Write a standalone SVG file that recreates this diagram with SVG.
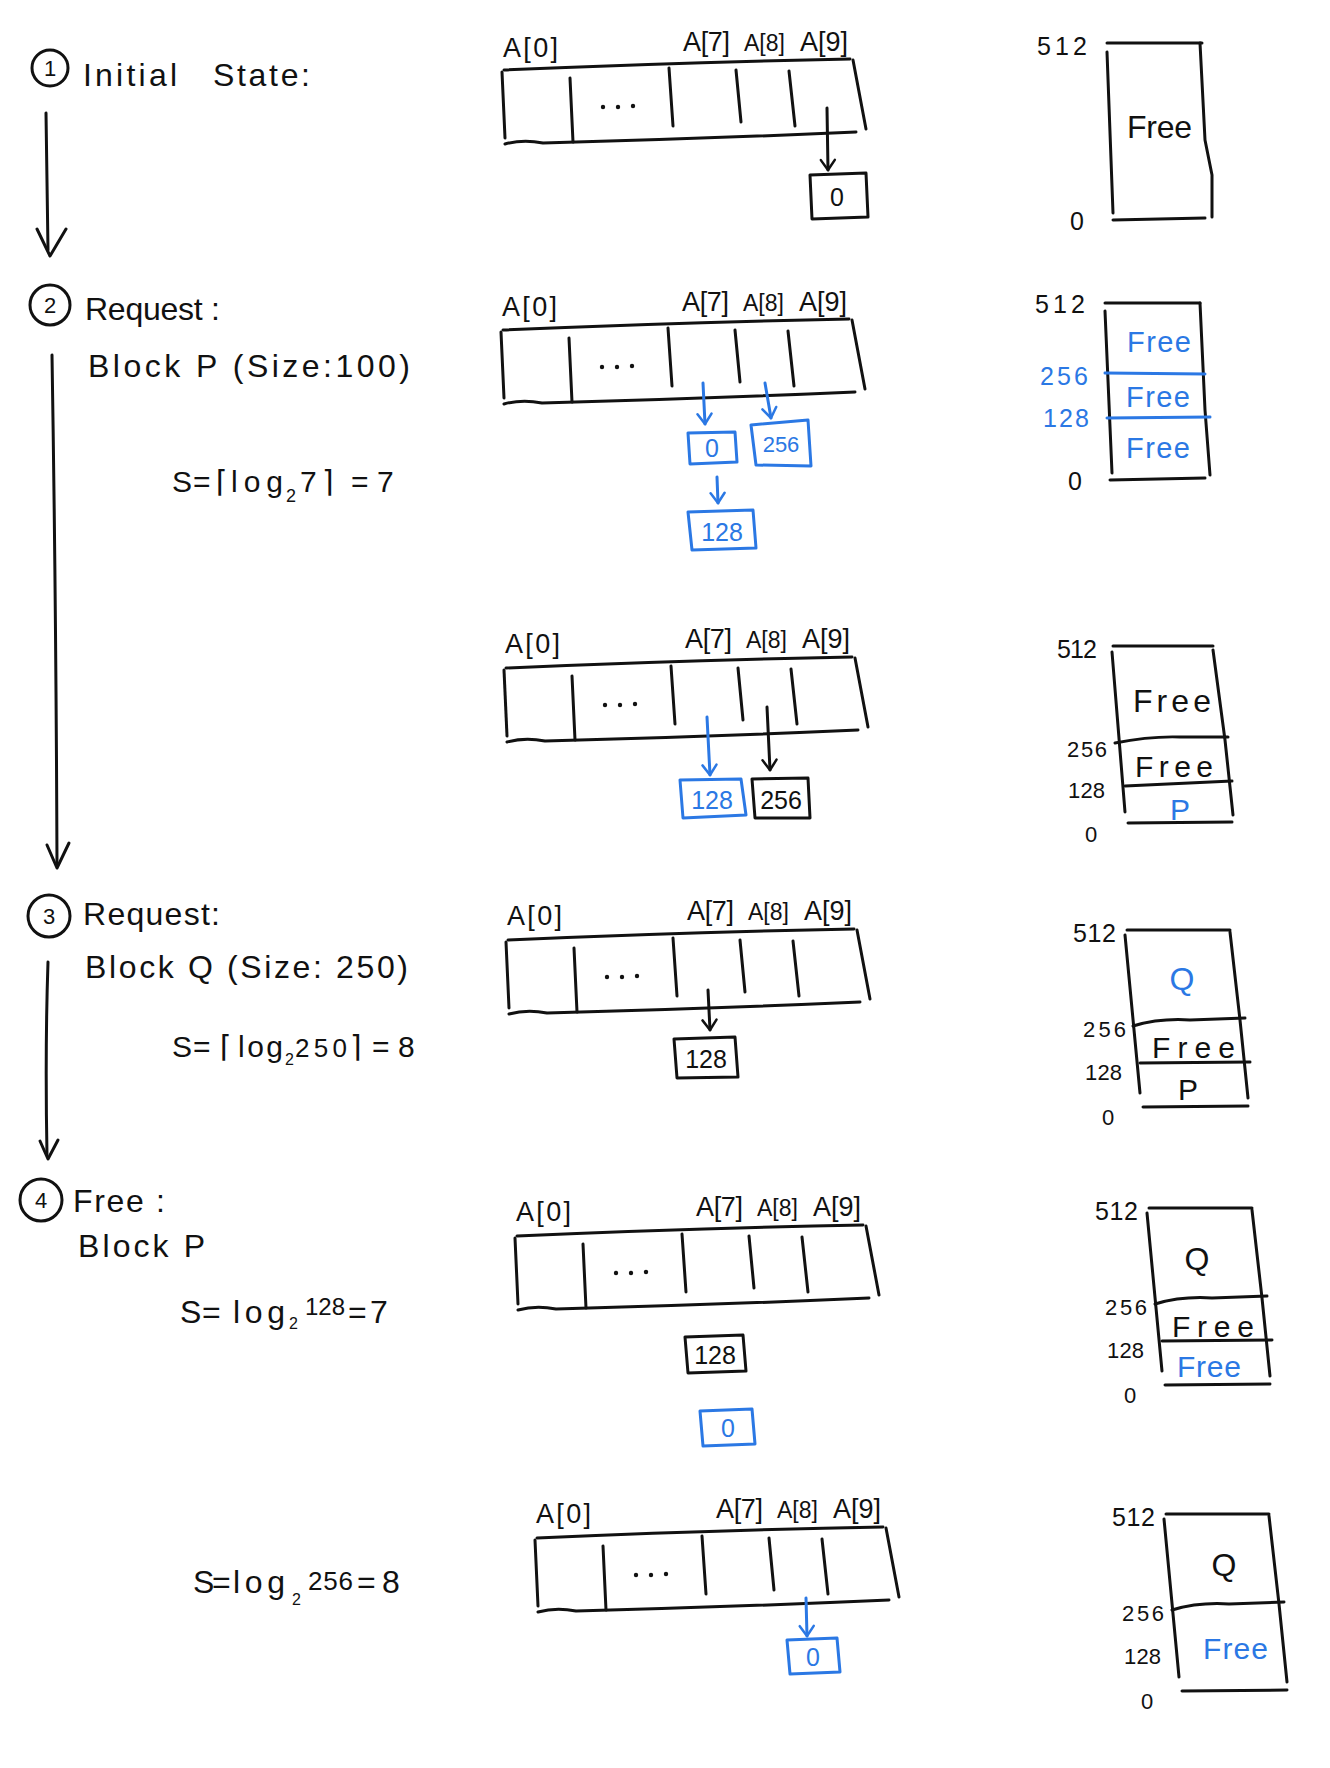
<svg xmlns="http://www.w3.org/2000/svg" xmlns:xlink="http://www.w3.org/1999/xlink" width="1330" height="1768" viewBox="0 0 1330 1768">
<style>
.ink{fill:none;stroke:#111;stroke-width:3;stroke-linecap:round;stroke-linejoin:round}
.bl{fill:none;stroke:#2b78e4;stroke-width:3;stroke-linecap:round;stroke-linejoin:round}
text{font-family:"Liberation Sans","DejaVu Sans",sans-serif;fill:#111}
.tb{fill:#2b78e4}
.big{font-size:32px}
.lab{font-size:27px}
.lab8{font-size:23px}
.num{font-size:25px}
.sm{font-size:22px}
.dot{fill:#111}
</style>
<defs>
<marker id="vk" viewBox="-12 -9 14 18" refX="0" refY="0" markerWidth="14" markerHeight="18" markerUnits="userSpaceOnUse" orient="auto">
<path d="M-10,-7 L0,0 L-10,7" fill="none" stroke="#111" stroke-width="2.5" stroke-linecap="round" stroke-linejoin="round"/>
</marker>
<marker id="vb" viewBox="-12 -9 14 18" refX="0" refY="0" markerWidth="14" markerHeight="18" markerUnits="userSpaceOnUse" orient="auto">
<path d="M-10,-7 L0,0 L-10,7" fill="none" stroke="#2b78e4" stroke-width="2.5" stroke-linecap="round" stroke-linejoin="round"/>
</marker>
<g id="arr">
<path class="ink" d="M1,0 Q185,-8 347,-11"/>
<path class="ink" d="M2,74 Q20,69 40,73 Q195,69 353,62"/>
<path class="ink" d="M-1,2 L2,68"/>
<path class="ink" d="M67,8 L70,72"/>
<path class="ink" d="M166,-2 L170,56"/>
<path class="ink" d="M233,0 L238,52"/>
<path class="ink" d="M286,1 L292,56"/>
<path class="ink" d="M350,-10 L363,59"/>
<circle class="dot" cx="100" cy="37" r="2.2"/>
<circle class="dot" cx="115" cy="37" r="2.2"/>
<circle class="dot" cx="130" cy="36" r="2.2"/>
</g>
<g id="memo">
<path class="ink" d="M1127,930 L1230,930"/>
<path class="ink" d="M1125,935 L1140,1093"/>
<path class="ink" d="M1230,932 L1240,1020 L1248,1098"/>
<path class="ink" d="M1133,1026 Q1160,1018 1190,1020 L1245,1018"/>
<path class="ink" d="M1143,1107 L1248,1106"/>
</g>
</defs>
<rect width="1330" height="1768" fill="#fff"/>

<!-- Step labels -->
<g id="step1">
<circle class="ink" cx="50" cy="68" r="18" stroke-width="2.5"/>
<text x="50" y="76" font-size="22" text-anchor="middle">1</text>
<text class="big" x="83" y="86" textLength="94">Initial</text>
<text class="big" x="213" y="86" textLength="97">State:</text>
</g>
<g id="step2">
<circle class="ink" cx="50" cy="305" r="20" stroke-width="2.5"/>
<text x="50" y="313" font-size="22" text-anchor="middle">2</text>
<text class="big" x="85" y="320" textLength="135">Request :</text>
<text class="big" x="88" y="377" textLength="322">Block P (Size:100)</text>
<text font-size="30" y="492"><tspan x="172">S</tspan><tspan x="193">=</tspan><tspan x="216">⌈</tspan><tspan x="231" textLength="52">log</tspan><tspan x="286" y="502" font-size="18">2</tspan><tspan x="300" y="492">7</tspan><tspan x="322">⌉</tspan><tspan x="351">=</tspan><tspan x="377">7</tspan></text>
</g>
<g id="step3">
<circle class="ink" cx="49" cy="916" r="21" stroke-width="2.5"/>
<text x="49" y="924" font-size="22" text-anchor="middle">3</text>
<text class="big" x="83" y="925" textLength="137">Request:</text>
<text class="big" x="85" y="978" textLength="323">Block Q (Size: 250)</text>
<text font-size="30" y="1057"><tspan x="172">S</tspan><tspan x="193">=</tspan><tspan x="220">⌈</tspan><tspan x="238" textLength="45">log</tspan><tspan x="285" y="1065" font-size="16">2</tspan><tspan x="295" y="1057" font-size="26" textLength="52">250</tspan><tspan x="350" y="1057">⌉</tspan><tspan x="372">=</tspan><tspan x="398">8</tspan></text>
</g>
<g id="step4">
<circle class="ink" cx="41" cy="1200" r="21" stroke-width="2.5"/>
<text x="41" y="1208" font-size="22" text-anchor="middle">4</text>
<text class="big" x="73" y="1212" textLength="92">Free :</text>
<text class="big" x="78" y="1257" textLength="127">Block P</text>
<text font-size="32" y="1323"><tspan x="180">S</tspan><tspan x="202">=</tspan><tspan x="233" textLength="52">log</tspan><tspan x="289" y="1329" font-size="16">2</tspan><tspan x="305" y="1315" font-size="24" textLength="40">128</tspan><tspan x="348" y="1323">=</tspan><tspan x="370">7</tspan></text>
<text font-size="32" y="1593"><tspan x="193">S</tspan><tspan x="212">=</tspan><tspan x="233" textLength="52">log</tspan><tspan x="292" y="1605" font-size="16">2</tspan><tspan x="308" y="1590" font-size="26" textLength="45">256</tspan><tspan x="357" y="1593">=</tspan><tspan x="382">8</tspan></text>
</g>

<!-- Arrays -->
<g id="array1">
<use xlink:href="#arr" href="#arr" transform="translate(503,70)"/>
<text class="lab" x="503" y="57" textLength="55">A[0]</text>
<text class="lab" x="683" y="51" textLength="47">A[7]</text>
<text class="lab8" x="744" y="51" textLength="41">A[8]</text>
<text class="lab" x="800" y="51" textLength="48">A[9]</text>
<path class="ink" d="M810,175 L866,173 L868,217 L812,219 Z"/>
<text class="num" x="837" y="206" text-anchor="middle">0</text>
</g>
<g id="array2">
<use xlink:href="#arr" href="#arr" transform="translate(502,330)"/>
<text class="lab" x="502" y="316" textLength="55">A[0]</text>
<text class="lab" x="682" y="311" textLength="47">A[7]</text>
<text class="lab8" x="743" y="311" textLength="41">A[8]</text>
<text class="lab" x="799" y="311" textLength="48">A[9]</text>
<path class="bl" d="M688,433 L735,432 L737,462 L690,464 Z"/>
<text class="num tb" x="712" y="457" text-anchor="middle">0</text>
<path class="bl" d="M751,425 L808,420 L811,466 L756,465 Z"/>
<text class="sm tb" x="781" y="452" text-anchor="middle">256</text>
<path class="bl" d="M688,512 L753,510 L756,548 L692,550 Z"/>
<text class="num tb" x="722" y="541" text-anchor="middle">128</text>
</g>
<g id="array3">
<use xlink:href="#arr" href="#arr" transform="translate(505,668)"/>
<text class="lab" x="505" y="653" textLength="55">A[0]</text>
<text class="lab" x="685" y="648" textLength="47">A[7]</text>
<text class="lab8" x="746" y="648" textLength="41">A[8]</text>
<text class="lab" x="802" y="648" textLength="48">A[9]</text>
<path class="bl" d="M680,780 L741,779 L746,815 L683,818 Z"/>
<text class="num tb" x="712" y="809" text-anchor="middle">128</text>
<path class="ink" d="M752,779 L808,778 L810,818 L755,818 Z"/>
<text class="num" x="781" y="809" text-anchor="middle">256</text>
</g>
<g id="array4">
<use xlink:href="#arr" href="#arr" transform="translate(507,940)"/>
<text class="lab" x="507" y="925" textLength="55">A[0]</text>
<text class="lab" x="687" y="920" textLength="47">A[7]</text>
<text class="lab8" x="748" y="920" textLength="41">A[8]</text>
<text class="lab" x="804" y="920" textLength="48">A[9]</text>
<path class="ink" d="M674,1039 L735,1037 L738,1077 L677,1078 Z"/>
<text class="num" x="706" y="1068" text-anchor="middle">128</text>
</g>
<g id="array5">
<use xlink:href="#arr" href="#arr" transform="translate(516,1236)"/>
<text class="lab" x="516" y="1221" textLength="55">A[0]</text>
<text class="lab" x="696" y="1216" textLength="47">A[7]</text>
<text class="lab8" x="757" y="1216" textLength="41">A[8]</text>
<text class="lab" x="813" y="1216" textLength="48">A[9]</text>
<path class="ink" d="M685,1337 L743,1335 L746,1371 L688,1373 Z"/>
<text class="num" x="715" y="1364" text-anchor="middle">128</text>
<path class="bl" d="M700,1411 L752,1409 L755,1444 L703,1446 Z"/>
<text class="num tb" x="728" y="1437" text-anchor="middle">0</text>
</g>
<g id="array6">
<use xlink:href="#arr" href="#arr" transform="translate(536,1538)"/>
<text class="lab" x="536" y="1523" textLength="55">A[0]</text>
<text class="lab" x="716" y="1518" textLength="47">A[7]</text>
<text class="lab8" x="777" y="1518" textLength="41">A[8]</text>
<text class="lab" x="833" y="1518" textLength="48">A[9]</text>
<path class="bl" d="M787,1640 L837,1638 L840,1672 L790,1674 Z"/>
<text class="num tb" x="813" y="1666" text-anchor="middle">0</text>
</g>

<!-- Memory columns -->
<g id="mem1">
<path class="ink" d="M1107,43 L1202,43"/>
<path class="ink" d="M1107,52 L1113,213"/>
<path class="ink" d="M1200,43 L1205,140 L1212,175 L1212,217"/>
<path class="ink" d="M1113,220 L1205,218"/>
<text class="num" x="1037" y="55" textLength="50">512</text>
<text class="big" x="1127" y="138" textLength="65">Free</text>
<text class="num" x="1070" y="230">0</text>
</g>
<g id="mem2">
<path class="ink" d="M1105,303 L1200,303"/>
<path class="ink" d="M1105,311 L1112,473"/>
<path class="ink" d="M1200,303 L1205,410 L1210,475"/>
<path class="ink" d="M1110,480 L1205,478"/>
<path class="bl" d="M1105,373 L1205,374"/>
<path class="bl" d="M1107,418 L1210,417"/>
<text class="num" x="1035" y="313" textLength="50">512</text>
<text class="num tb" x="1040" y="385" textLength="48">256</text>
<text class="num tb" x="1043" y="427" textLength="46">128</text>
<text class="num" x="1068" y="490">0</text>
<text class="tb" font-size="29" x="1127" y="352" textLength="64">Free</text>
<text class="tb" font-size="29" x="1126" y="407" textLength="64">Free</text>
<text class="tb" font-size="29" x="1126" y="458" textLength="64">Free</text>
</g>
<g id="mem3">
<path class="ink" d="M1113,646 L1213,646"/>
<path class="ink" d="M1112,652 L1125,812"/>
<path class="ink" d="M1213,650 L1225,740 L1233,815"/>
<path class="ink" d="M1115,743 Q1150,736 1180,737 L1228,737"/>
<path class="ink" d="M1125,786 L1232,781"/>
<path class="ink" d="M1128,823 L1232,822"/>
<text class="num" x="1057" y="658" textLength="40">512</text>
<text class="sm" x="1067" y="757" textLength="40">256</text>
<text class="sm" x="1068" y="798" textLength="37">128</text>
<text class="sm" x="1085" y="842">0</text>
<text class="big" x="1133" y="712" textLength="78">Free</text>
<text font-size="30" x="1135" y="777" textLength="78">Free</text>
<text class="tb" font-size="30" x="1180" y="820" text-anchor="middle">P</text>
</g>
<g id="mem4">
<use xlink:href="#memo" href="#memo"/>
<path class="ink" d="M1140,1063 L1250,1062"/>
<text class="num" x="1073" y="942" textLength="43">512</text>
<text class="sm" x="1083" y="1037" textLength="43">256</text>
<text class="sm" x="1085" y="1080" textLength="37">128</text>
<text class="sm" x="1102" y="1125">0</text>
<text class="big tb" x="1182" y="990" text-anchor="middle">Q</text>
<text font-size="30" x="1152" y="1058" textLength="83">Free</text>
<text font-size="30" x="1188" y="1100" text-anchor="middle">P</text>
</g>
<g id="mem5">
<g transform="translate(22,278)">
<use xlink:href="#memo" href="#memo"/>
<path class="ink" d="M1140,1063 L1250,1062"/>
</g>
<text class="num" x="1095" y="1220" textLength="43">512</text>
<text class="sm" x="1105" y="1315" textLength="42">256</text>
<text class="sm" x="1107" y="1358" textLength="37">128</text>
<text class="sm" x="1124" y="1403">0</text>
<text class="big" x="1197" y="1270" text-anchor="middle">Q</text>
<text font-size="30" x="1172" y="1337" textLength="82">Free</text>
<text class="tb" font-size="30" x="1177" y="1377" textLength="64">Free</text>
</g>
<g id="mem6">
<g transform="translate(39,584)">
<use xlink:href="#memo" href="#memo"/>
</g>
<text class="num" x="1112" y="1526" textLength="43">512</text>
<text class="sm" x="1122" y="1621" textLength="42">256</text>
<text class="sm" x="1124" y="1664" textLength="37">128</text>
<text class="sm" x="1141" y="1709">0</text>
<text class="big" x="1224" y="1576" text-anchor="middle">Q</text>
<text class="tb" font-size="30" x="1203" y="1659" textLength="65">Free</text>
</g>

<!-- Connectors -->
<g id="connectors">
<path class="ink" d="M46,113 L48,250"/>
<path class="ink" d="M37,229 L50,256 L66,229"/>
<path class="ink" d="M52,355 Q56,600 57,864"/>
<path class="ink" d="M47,845 L57,868 L69,843"/>
<path class="ink" d="M48,962 Q45,1050 47,1155"/>
<path class="ink" d="M40,1141 L48,1159 L58,1140"/>
<path class="ink" d="M827,108 L828,170" marker-end="url(#vk)"/>
<path class="bl" d="M703,383 L705,424" marker-end="url(#vb)"/>
<path class="bl" d="M765,383 L771,418" marker-end="url(#vb)"/>
<path class="bl" d="M717,477 L718,503" marker-end="url(#vb)"/>
<path class="bl" d="M707,717 L710,775" marker-end="url(#vb)"/>
<path class="ink" d="M767,707 L770,770" marker-end="url(#vk)"/>
<path class="ink" d="M708,990 L710,1030" marker-end="url(#vk)"/>
<path class="bl" d="M806,1598 L807,1636" marker-end="url(#vb)"/>
</g>
</svg>
